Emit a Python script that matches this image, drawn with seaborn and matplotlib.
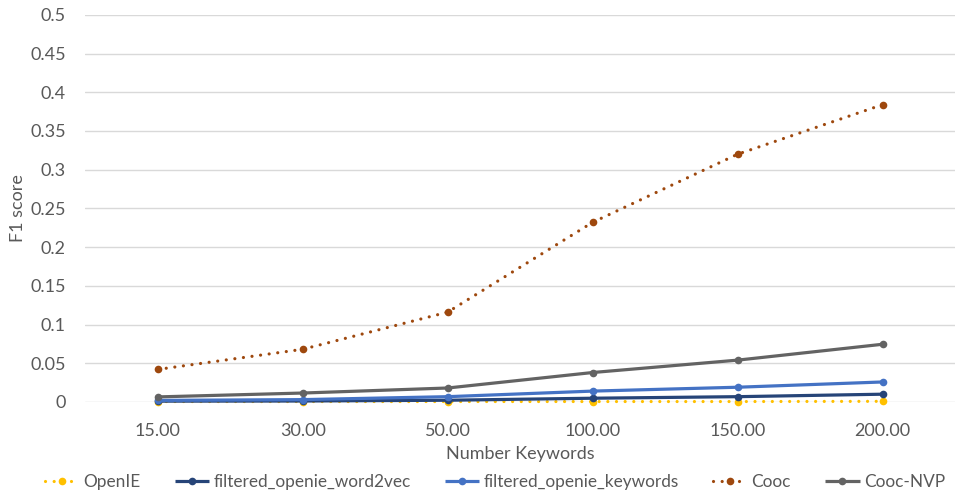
import matplotlib
matplotlib.use("Agg")
import matplotlib.pyplot as plt
import seaborn as sns
import pandas as pd

# Number of keywords (category labels on the x axis)
keywords = ["15.00", "30.00", "50.00", "100.00", "150.00", "200.00"]

# F1 scores per method
openie = [0.0005, 0.0005, 0.0005, 0.0005, 0.0005, 0.0008]
filtered_word2vec = [0.001, 0.0012, 0.0022, 0.0048, 0.0068, 0.010]
filtered_keywords = [0.002, 0.003, 0.0068, 0.014, 0.019, 0.0258]
cooc = [0.042, 0.068, 0.116, 0.232, 0.320, 0.384]
cooc_nvp = [0.0065, 0.0115, 0.018, 0.038, 0.054, 0.0745]

series_names = ["OpenIE", "filtered_openie_word2vec", "filtered_openie_keywords",
                "Cooc", "Cooc-NVP"]
series_values = [openie, filtered_word2vec, filtered_keywords, cooc, cooc_nvp]
colors = ["#FFC000", "#264478", "#4472C4", "#9E480E", "#636363"]
dotted = (0, (0.01, 2.7))
styles = [dotted, "-", "-", dotted, "-"]

rows = []
for name, vals in zip(series_names, series_values):
    for k, v in zip(keywords, vals):
        rows.append({"Number Keywords": k, "F1 score": v, "method": name})
df = pd.DataFrame(rows)

sns.set_theme(style="white")
plt.rcParams["font.family"] = ["Lato", "DejaVu Sans"]
text_color = "#595959"
fs = 13

fig = plt.figure(figsize=(9.57, 4.95), dpi=100)
ax = fig.add_axes([0.089, 0.188, 0.909, 0.782])

# draw the lowest-priority series first so Cooc-NVP and Cooc sit on top
order = [0, 1, 2, 4, 3]
for i in order:
    name = series_names[i]
    sub = df[df["method"] == name]
    sns.lineplot(data=sub, x="Number Keywords", y="F1 score", ax=ax,
                 color=colors[i], linewidth=2.3,
                 linestyle=styles[i], marker="o", markersize=5.5,
                 markeredgewidth=0, sort=False, estimator=None,
                 clip_on=False, label=name)

for line in ax.get_lines():
    line.set_dash_capstyle("round")
    line.set_solid_capstyle("butt")

ax.set_xlim(-0.5, len(keywords) - 0.5)
ax.set_ylim(0, 0.5)
yt = [round(i * 0.05, 2) for i in range(11)]
ax.set_yticks(yt)
ax.set_yticklabels(["0" if v == 0 else f"{v:g}" for v in yt])
ax.grid(axis="y", color="#D9D9D9", linewidth=1)
ax.set_axisbelow(True)
for s in ax.spines.values():
    s.set_visible(False)
ax.tick_params(axis="both", length=0, labelsize=fs, colors=text_color)
ax.tick_params(axis="x", pad=15)
ax.tick_params(axis="y", pad=14)
ax.set_xlabel("Number Keywords", fontsize=fs, color=text_color, labelpad=5)
ax.set_ylabel("F1 score", fontsize=fs, color=text_color, labelpad=3)

h, l = ax.get_legend_handles_labels()
hm = dict(zip(l, h))
leg = ax.legend([hm[n] for n in series_names], series_names, ncol=5, frameon=False,
                loc="center", bbox_to_anchor=(0.517, 0.026), bbox_transform=fig.transFigure,
                fontsize=12.4, labelcolor=text_color, handlelength=2.0, handletextpad=0.25,
                columnspacing=1.98, borderaxespad=0)

fig.savefig("out.png", dpi=100, facecolor="white")
